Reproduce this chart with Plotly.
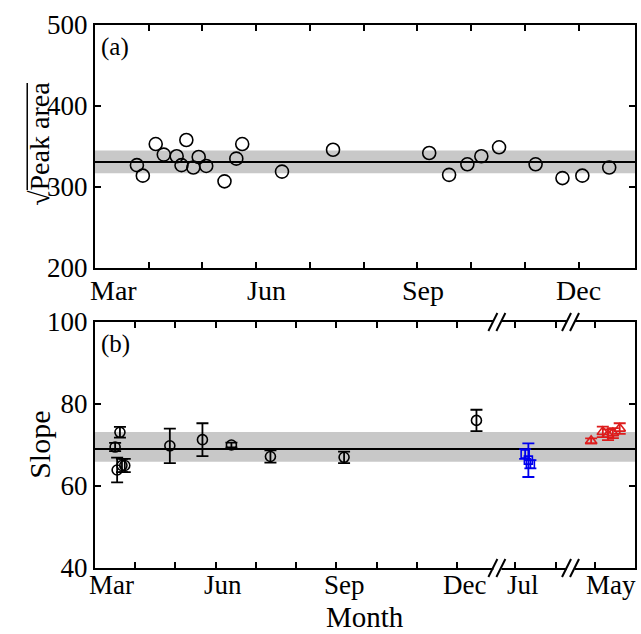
import plotly.graph_objects as go

# ---------------- data ----------------
# panel (a): month offset from 1 March (decimal months) and sqrt(peak area)
peak_month = [0.78, 0.89, 1.13, 1.28, 1.52, 1.61, 1.70, 1.83, 1.93, 2.07, 2.41, 2.63,
              2.74, 3.48, 4.43, 6.22, 6.59, 6.93, 7.19, 7.52, 8.20, 8.70, 9.07, 9.57]
peak_sqrt = [327, 314, 353, 340, 338, 327, 358, 324, 337, 326, 307, 335,
             353, 319, 346, 342, 315, 328, 338, 349, 328, 311, 314, 324]
peak_mean = 331
peak_band = [317, 345]

# panel (b): broken month axis (segment 1: Mar..Dec, segment 2: Jul, segment 3: May)
slope_month = [0.50, 0.55, 0.62, 0.67, 0.74, 1.86, 2.67, 3.39, 4.36, 6.19, 9.48]
slope_val = [69.5, 63.9, 73.1, 65.0, 65.0, 69.8, 71.3, 70.0, 67.2, 67.0, 76.0]
slope_err = [1.0, 3.0, 1.3, 1.6, 1.6, 4.2, 4.0, 0.6, 1.5, 1.4, 2.6]

blue_month = [10.69, 10.77, 10.82]
blue_val = [67.8, 66.3, 65.3]
blue_err = [1.2, 4.1, 1.0]

red_month = [12.33, 12.62, 12.75, 12.87, 13.04]
red_val = [71.0, 73.2, 72.5, 72.9, 74.0]
red_err = [0.6, 1.3, 1.3, 1.2, 1.3]

slope_mean = 69.0
slope_band = [65.9, 73.2]

top_ticks = [0, 1, 2, 3, 4, 5, 6, 7, 8, 9]
top_label_pos = [0.35, 3.2, 6.1, 9.0]
top_labels = ["Mar", "Jun", "Sep", "Dec"]

bot_ticks = [0, 1, 2, 3, 4, 5, 6, 7, 8, 9, 10.45, 11.45, 12.43]
bot_label_pos = [0.4, 3.18, 6.19, 9.18, 10.64, 12.82]
bot_labels = ["Mar", "Jun", "Sep", "Dec", "Jul", "May"]
breaks = [10.0, 11.83]

FONT = "Liberation Serif, Times New Roman, serif"
BAND = "#c8c8c8"
FS = 27      # tick labels
FT = 30      # axis titles

fig = go.Figure()

# panel (a)
fig.add_trace(go.Scatter(
    x=peak_month, y=peak_sqrt, mode="markers", xaxis="x", yaxis="y",
    marker=dict(symbol="circle-open", size=13, color="black", line=dict(width=1.6)),
    showlegend=False))

# panel (b)
fig.add_trace(go.Scatter(
    x=slope_month, y=slope_val, mode="markers", xaxis="x2", yaxis="y2",
    error_y=dict(type="data", array=slope_err, color="black", thickness=1.8, width=6),
    marker=dict(symbol="circle-open", size=10, color="black", line=dict(width=1.6)),
    showlegend=False))
fig.add_trace(go.Scatter(
    x=blue_month, y=blue_val, mode="markers", xaxis="x2", yaxis="y2",
    error_y=dict(type="data", array=blue_err, color="#0000ee", thickness=1.8, width=6),
    marker=dict(symbol="square-open", size=8, color="#0000ee", line=dict(width=1.6)),
    showlegend=False))
fig.add_trace(go.Scatter(
    x=red_month, y=red_val, mode="markers", xaxis="x2", yaxis="y2",
    error_y=dict(type="data", array=red_err, color="#dd1c1c", thickness=1.8, width=6),
    marker=dict(symbol="triangle-up-open", size=10, color="#dd1c1c", line=dict(width=1.6)),
    showlegend=False))

shapes = []
# bands and mean lines
shapes.append(dict(type="rect", xref="x domain", yref="y", x0=0, x1=1,
                   y0=peak_band[0], y1=peak_band[1], fillcolor=BAND, line=dict(width=0), layer="below"))
shapes.append(dict(type="line", xref="x domain", yref="y", x0=0, x1=1,
                   y0=peak_mean, y1=peak_mean, line=dict(color="black", width=2), layer="below"))
shapes.append(dict(type="rect", xref="x2 domain", yref="y2", x0=0, x1=1,
                   y0=slope_band[0], y1=slope_band[1], fillcolor=BAND, line=dict(width=0), layer="below"))
shapes.append(dict(type="line", xref="x2 domain", yref="y2", x0=0, x1=1,
                   y0=slope_mean, y1=slope_mean, line=dict(color="black", width=2), layer="below"))

# axis break marks on panel (b)
for b in breaks:
    for yd in (0, 1):
        shapes.append(dict(type="rect", xref="x2", yref="y2 domain",
                           xsizemode="pixel", ysizemode="pixel", xanchor=b, yanchor=yd,
                           x0=-4, x1=4, y0=-3, y1=3, fillcolor="white", line=dict(width=0)))
        for dx in (-5, 3):
            shapes.append(dict(type="line", xref="x2", yref="y2 domain",
                               xsizemode="pixel", ysizemode="pixel", xanchor=b, yanchor=yd,
                               x0=dx - 4, x1=dx + 5, y0=-9, y1=9,
                               line=dict(color="black", width=2)))

# overline of the square root in the y title of panel (a)
shapes.append(dict(type="line", xref="paper", yref="paper",
                   x0=-0.1255, x1=-0.1255, y0=(568 - 190) / 543.0, y1=(568 - 83) / 543.0,
                   line=dict(color="black", width=1.5)))

annotations = [
    dict(text="(a)", xref="x domain", yref="y domain", x=0.008, y=0.975,
         xanchor="left", yanchor="top", showarrow=False, font=dict(size=25)),
    dict(text="(b)", xref="x2 domain", yref="y2 domain", x=0.008, y=0.975,
         xanchor="left", yanchor="top", showarrow=False, font=dict(size=25)),
    dict(text="√Peak area", xref="paper", yref="paper", x=-0.104, y=(568 - 144) / 543.0,
         xanchor="center", yanchor="middle",
         textangle=-90, showarrow=False, font=dict(size=28)),
    dict(text="Slope", xref="paper", yref="paper", x=-0.104, y=(568 - 445) / 543.0,
         xanchor="center", yanchor="middle",
         textangle=-90, showarrow=False, font=dict(size=FT)),
    dict(text="Month", xref="paper", yref="paper", x=0.5, y=(568 - 633) / 543.0,
         xanchor="center", yanchor="bottom", height=29, showarrow=False, font=dict(size=29)),
]
for p, t in zip(top_label_pos, top_labels):
    annotations.append(dict(text=t, xref="x", yref="y domain", x=p, y=-(291 - 268) / 243.0,
                            xanchor="center", yanchor="middle", showarrow=False, font=dict(size=28)))
for p, t in zip(bot_label_pos, bot_labels):
    annotations.append(dict(text=t, xref="x2", yref="y2 domain", x=p, y=-(585 - 568) / 246.0,
                            xanchor="center", yanchor="middle", showarrow=False, font=dict(size=27)))

axis_common = dict(showline=True, linecolor="black", linewidth=2, mirror="ticks",
                   ticks="inside", ticklen=6, tickwidth=1.5, tickcolor="black",
                   showgrid=False, zeroline=False)

fig.update_layout(
    width=641, height=634,
    margin=dict(l=95, r=4, t=25, b=66),
    paper_bgcolor="white", plot_bgcolor="white",
    font=dict(family=FONT, size=FS, color="black"),
    xaxis=dict(domain=[0, 1], anchor="y", range=[0, 10.05], tickvals=top_ticks,
               showticklabels=False, **axis_common),
    yaxis=dict(domain=[(568 - 268) / 543.0, 1], anchor="x", range=[200, 500],
               tickvals=[200, 300, 400, 500], tickfont=dict(size=FS), **axis_common),
    xaxis2=dict(domain=[0, 1], anchor="y2", range=[0, 13.42], tickvals=bot_ticks,
                showticklabels=False, **axis_common),
    yaxis2=dict(domain=[0, (568 - 322) / 543.0], anchor="x2", range=[40, 100],
                tickvals=[40, 60, 80, 100], tickfont=dict(size=FS), **axis_common),
    shapes=shapes,
    annotations=annotations,
)

fig.write_html("out.html")
